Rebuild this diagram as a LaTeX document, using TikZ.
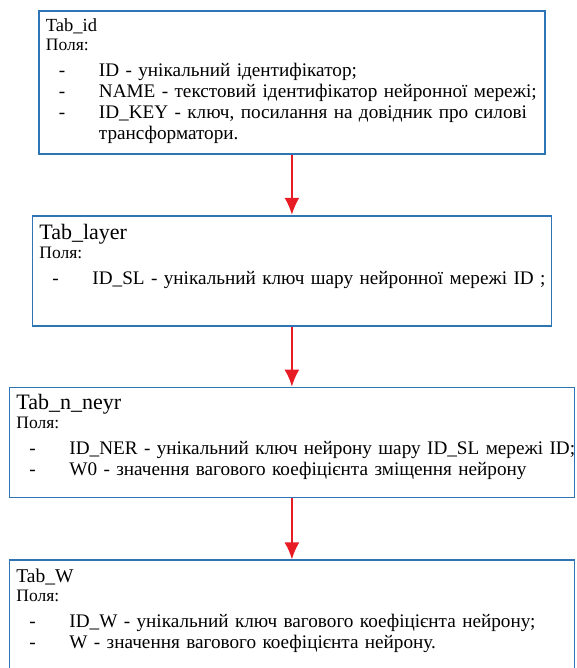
\documentclass[tikz,border=0pt]{standalone}
\usepackage{fontspec}
\setmainfont{Liberation Serif}
\usetikzlibrary{arrows.meta}
\usetikzlibrary{positioning}
\definecolor{boxblue}{RGB}{46,117,182}
\definecolor{linkred}{RGB}{232,28,36}
\newcommand{\tabname}[2]{{\fontsize{#1}{21}\selectfont #2}}
\newcommand{\fieldshead}{{\fontsize{17.5}{21}\selectfont Поля:}}
\newcommand{\fld}[1]{\hspace*{13pt}\makebox[40pt][l]{-}\mbox{#1}}
\tikzset{
	tabbox/.style={rectangle, draw=boxblue, line width=1.8pt, align=left, inner xsep=7pt, inner ysep=0pt, font=\rmfamily\fontsize{19.2}{21}\selectfont},
	arrow/.style={draw=linkred, -{Latex[length=17pt,width=15pt]}, line width=1.8pt}
}

\begin{document}
\begin{tikzpicture}
\useasboundingbox (0,0) rectangle (576pt,-668pt);

\node[tabbox, text width=492pt, text height=21pt, text depth=122pt, anchor=north west] (tabid) at (38pt,-10pt) {\tabname{18.5}{Tab\_id}\\[-2pt]
	\fieldshead\\[5pt]
	\fld{ID - унікальний ідентифікатор;}\\
	\fld{NAME - текстовий ідентифікатор нейронної мережі;}\\
	\fld{ID\_KEY - ключ, посилання на довідник про силові}\\
	\hspace*{53pt}трансформатори.};

\node[tabbox, text width=505pt, text height=24pt, text depth=86pt, below = 60pt of tabid] (tablayer) {\tabname{22}{Tab\_layer}\\[-2pt]
	\fieldshead\\[5pt]
	\fld{ID\_SL - унікальний ключ шару нейронної мережі ID ;}};

\node[tabbox, text width=551pt, text height=22pt, text depth=88pt, below = 60pt of tablayer] (tabneyr) {\tabname{22}{Tab\_n\_neyr}\\[-2pt]
	\fieldshead\\[5pt]
	\fld{ID\_NER - унікальний ключ нейрону шару ID\_SL мережі ID;}\\
	\fld{W0 - значення вагового коефіцієнта зміщення нейрону}};

\node[tabbox, text width=551pt, text height=22pt, text depth=93pt, below = 61pt of tabneyr] (tabw) {\tabname{19.5}{Tab\_W}\\[-2pt]
	\fieldshead\\[5pt]
	\fld{ID\_W - унікальний ключ вагового коефіцієнта нейрону;}\\
	\fld{W - значення вагового коефіцієнта нейрону.}};

\draw [arrow] (tabid) -- (tablayer);
\draw [arrow] (tablayer) -- (tabneyr);
\draw [arrow] (tabneyr) -- (tabw);

\end{tikzpicture}
\end{document}
